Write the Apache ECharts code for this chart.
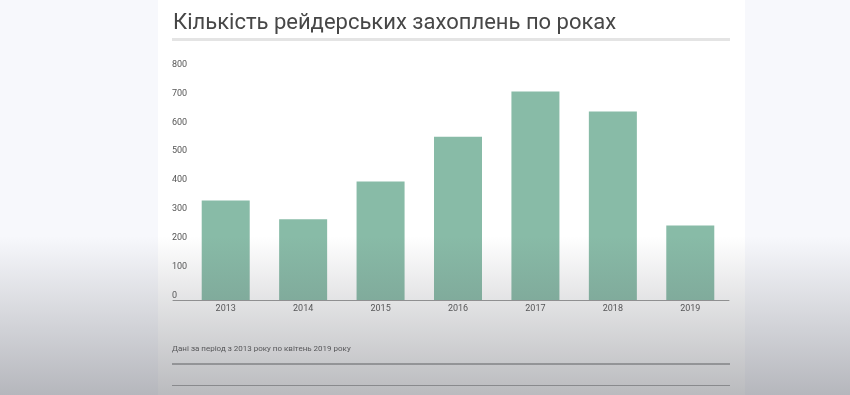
<!DOCTYPE html>
<html>
<head>
<meta charset="utf-8">
<script src="https://cdn.jsdelivr.net/npm/echarts@6/dist/echarts.min.js"></script>
<style>
html,body{margin:0;padding:0;background:#f7f8fc;}
#chart{width:850px;height:395px;}
</style>
</head>
<body>
<div id="chart"></div>
<script>
var titleText = 'Кількість рейдерських захоплень по роках';
var footnoteText = 'Дані за період з 2013 року по квітень 2019 року';
var categories = ['2013', '2014', '2015', '2016', '2017', '2018', '2019'];
var values = [345, 280, 410, 565, 722, 653, 258];
var yTicks = [0, 100, 200, 300, 400, 500, 600, 700, 800];

var chart = echarts.init(document.getElementById('chart'), null, {renderer: 'canvas'});
var option = {
  animation: false,
  backgroundColor: '#f7f8fc',
  textStyle: {fontFamily: 'Roboto'},
  title: {
    text: titleText,
    left: 168,
    top: 7,
    textStyle: {fontFamily: 'Roboto', fontSize: 22, fontWeight: 'normal', color: '#474747'}
  },
  grid: [
    {left: 187, right: 121, top: 69, bottom: 95},
    {left: 173, right: 121, top: 69, bottom: 95}
  ],
  xAxis: [
    {
      type: 'category',
      gridIndex: 0,
      data: categories,
      axisLine: {show: false},
      axisTick: {show: false},
      axisLabel: {color: '#555555', fontSize: 9, margin: 4, fontFamily: 'Roboto'}
    },
    {
      type: 'value',
      gridIndex: 1,
      axisLine: {show: true, lineStyle: {color: '#9a9a9a', width: 1}},
      axisTick: {show: false},
      axisLabel: {show: false},
      splitLine: {show: false}
    }
  ],
  yAxis: [
    {
      type: 'value',
      gridIndex: 0,
      min: 0,
      max: 800,
      interval: 100,
      axisLine: {show: false},
      axisTick: {show: false},
      splitLine: {show: false},
      axisLabel: {
        color: '#555555', fontSize: 9, fontFamily: 'Roboto',
        align: 'left', margin: 15, verticalAlign: 'bottom', lineHeight: 9,
        formatter: function (v) { return yTicks.indexOf(v) >= 0 ? String(v) : ''; }
      }
    },
    {type: 'value', gridIndex: 1, show: false}
  ],
  series: [{
    type: 'bar',
    xAxisIndex: 0,
    yAxisIndex: 0,
    data: values,
    barCategoryGap: '38%',
    itemStyle: {color: '#88bba7'},
    z: 2
  }],
  graphic: [
    {type: 'rect', z: -10, zlevel: 0, silent: true, shape: {x: 158, y: 0, width: 587, height: 395}, style: {fill: '#ffffff'}},
    {type: 'rect', z: -9, silent: true, shape: {x: 172, y: 38, width: 558, height: 3}, style: {fill: '#e4e4e4'}},
    {type: 'text', silent: true, left: 172, top: 345, style: {text: footnoteText, fill: '#555555', font: '8px Roboto'}},
    {type: 'rect', silent: true, shape: {x: 172, y: 363, width: 558, height: 2}, style: {fill: '#b0b0b0'}},
    {type: 'rect', silent: true, shape: {x: 172, y: 385, width: 558, height: 1}, style: {fill: '#a8a8a8'}},
    {type: 'rect', z: 100, silent: true, shape: {x: 0, y: 236, width: 850, height: 159},
      style: {fill: new echarts.graphic.LinearGradient(0, 0, 0, 1, [
        {offset: 0, color: 'rgba(90,92,100,0)'},
        {offset: 1, color: 'rgba(90,92,100,0.42)'}
      ])}}
  ]
};
chart.setOption(option);
</script>
</body>
</html>
